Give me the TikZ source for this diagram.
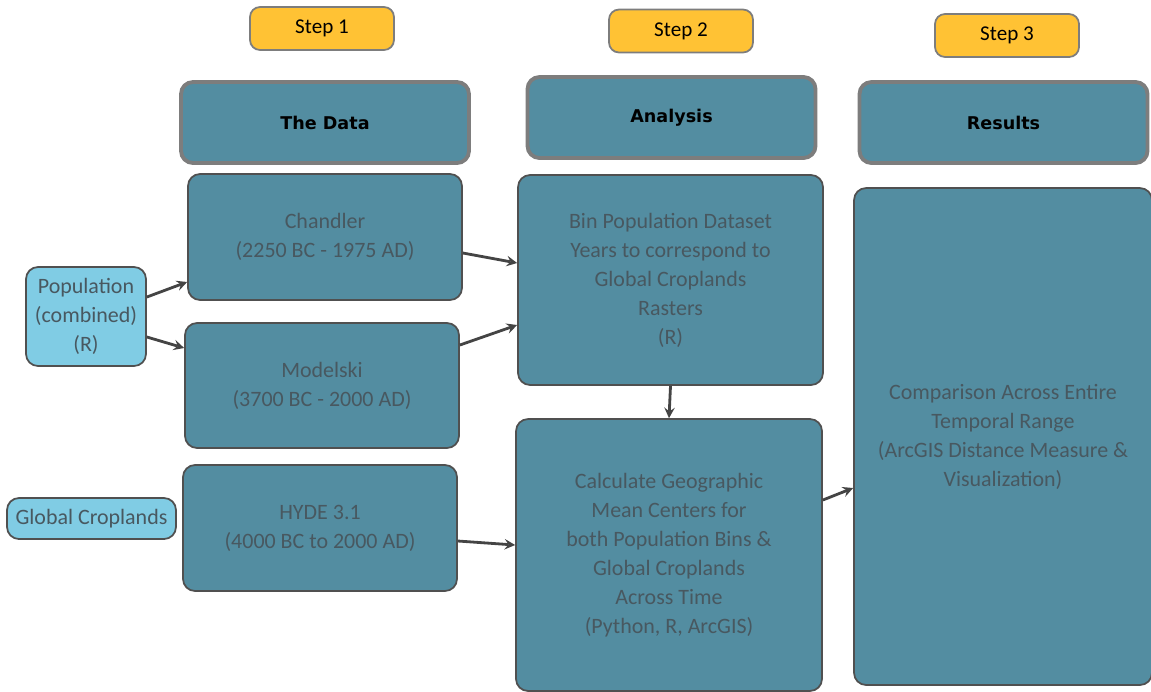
\documentclass[tikz,border=0pt]{standalone}
\usepackage{fontspec}
\setmainfont{Carlito}
\newfontfamily\headfont{DejaVu Sans}
\usetikzlibrary{shapes,arrows,positioning,calc}

\definecolor{boxteal}{RGB}{83,141,161}
\definecolor{boxline}{RGB}{80,80,80}
\definecolor{headline}{RGB}{125,125,125}
\definecolor{srcblue}{RGB}{128,204,228}
\definecolor{stepgold}{RGB}{255,194,52}
\definecolor{boxtext}{RGB}{72,88,96}

\begin{document}
\begin{tikzpicture}[
    x=0.02cm, y=-0.02cm,
    stepbox/.style={rectangle, draw=headline, fill=stepgold, line width=1pt, minimum width=2.88cm, minimum height=0.86cm, rounded corners=0.2cm, font=\fontsize{12}{14}\selectfont},
    header/.style={rectangle, draw=headline, fill=boxteal, line width=2.2pt, minimum width=5.76cm, minimum height=1.62cm, rounded corners=0.24cm, font=\headfont\bfseries\fontsize{10}{12}\selectfont},
    process/.style={rectangle, draw=boxline, fill=boxteal, line width=1pt, rounded corners=0.24cm, text=boxtext, align=center, font=\fontsize{12.5}{16.5}\selectfont},
    source/.style={rectangle, draw=boxline, fill=srcblue, line width=1pt, rounded corners=0.24cm, text=boxtext, align=center, inner sep=1pt, font=\fontsize{12.5}{16.5}\selectfont},
    arrow/.style={->, >=stealth, line width=1.6pt, draw=boxline!85!black}
]
\useasboundingbox (0,0) rectangle (1151,691);

% ============ STEPS ============
\node[stepbox] (step-one) at (322,28.5) {Step 1};
\node[stepbox] (step-two) at (681,31) {Step 2};
\node[stepbox] (step-three) at (1007,35.5) {Step 3};

% ============ HEADERS ============
\node[header] (data-head) at (325,122.5) {The Data};
\node[header] (analysis-head) at (671.5,117.5) {Analysis};
\node[header] (results-head) at (1003.5,122.5) {Results};

% ============ SOURCES ============
\node[source, minimum width=2.4cm, minimum height=1.98cm] (population) at (86,316.5) {Population\\(combined)\\(R)};
\node[source, minimum width=3.38cm, minimum height=0.82cm] (croplands) at (91.5,518.5) {Global Croplands};

% ============ THE DATA ============
\node[process, minimum width=5.48cm, minimum height=2.52cm] (chandler) at (325,237) {Chandler\\(2250 BC - 1975 AD)};
\node[process, minimum width=5.48cm, minimum height=2.5cm] (modelski) at (322,385.5) {Modelski\\(3700 BC - 2000 AD)};
\node[process, minimum width=5.48cm, minimum height=2.52cm] (hyde) at (320,528) {HYDE 3.1\\(4000 BC to 2000 AD)};

% ============ ANALYSIS ============
\node[process, minimum width=6.1cm, minimum height=4.2cm] (bin-years) at (670.5,280) {Bin Population Dataset\\Years to correspond to\\Global Croplands\\Rasters\\(R)};
\node[process, minimum width=6.12cm, minimum height=5.44cm] (mean-centers) at (669,555) {Calculate Geographic\\Mean Centers for\\both Population Bins \&\\Global Croplands\\Across Time\\(Python, R, ArcGIS)};

% ============ RESULTS ============
\node[process, minimum width=5.96cm, minimum height=9.94cm] (comparison) at (1003,436.5) {Comparison Across Entire\\Temporal Range\\(ArcGIS Distance Measure \&\\Visualization)};

% ============ CONNEXIONS ============
\draw[arrow] ([yshift=0.39cm]population.east) -- ([yshift=-0.9cm]chandler.west);
\draw[arrow] ([yshift=-0.41cm]population.east) -- ([yshift=0.75cm]modelski.west);

\draw[arrow] ([yshift=-0.32cm]chandler.east) -- ([yshift=0.34cm]bin-years.west);
\draw[arrow] ([yshift=0.81cm]modelski.east) -- ([yshift=-0.9cm]bin-years.west);
\draw[arrow] ([yshift=-0.26cm]hyde.east) -- ([yshift=0.2cm]mean-centers.west);

\draw[arrow] (bin-years.south) -- (mean-centers.north);
\draw[arrow] ([yshift=1.1cm]mean-centers.east) -- ([yshift=-1.03cm]comparison.west);

\end{tikzpicture}
\end{document}
